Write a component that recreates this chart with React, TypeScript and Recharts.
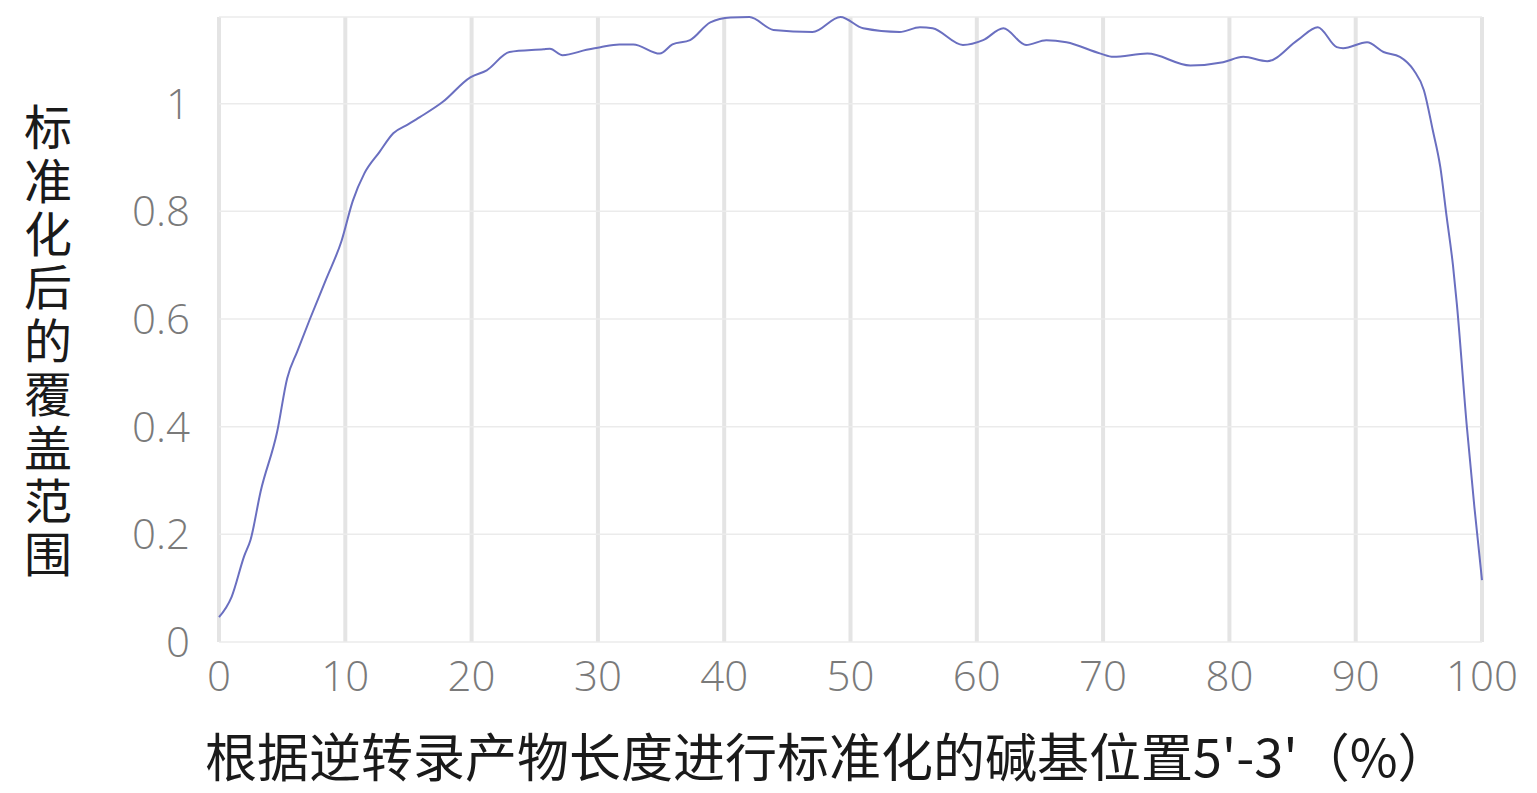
import { LineChart, Line, XAxis, YAxis, CartesianGrid } from 'recharts';

// normalised base position along the transcript (%)
const positions = [
  0, 1, 2, 2.5, 3.3, 4.6, 5.4, 6.2, 7.2, 8.5, 9.7, 10.6, 11.5, 12.7, 13.8, 15, 15.9, 17.7,
  19.9, 21.2, 23, 25.7, 26.2, 27.2, 29.1, 30.2, 31.7, 32.8, 34.9, 35.9, 37.3, 38.9, 40.5,
  42, 43.9, 47, 49.2, 51, 53.9, 55.5, 56.5, 58.9, 60.5, 62.1, 63.9, 65.5, 67.1, 69.8, 70.8,
  73.5, 76.9, 79.5, 81.1, 83, 85.4, 87, 88.5, 89, 90.9, 92.2, 93.5, 94.6, 95.4, 96.1, 96.7,
  97.2, 97.7, 98, 98.8, 99.4, 100,
];

// normalised coverage at each position
const coverage = [
  0.046, 0.084, 0.16, 0.19, 0.28, 0.39, 0.49, 0.54, 0.6, 0.675, 0.745, 0.82, 0.87, 0.91, 0.945,
  0.962, 0.975, 1.003, 1.049, 1.062, 1.096, 1.101, 1.102, 1.09, 1.1, 1.105, 1.11, 1.11, 1.093,
  1.11, 1.118, 1.151, 1.16, 1.161, 1.137, 1.133, 1.161, 1.14, 1.133, 1.142, 1.14, 1.109, 1.118,
  1.14, 1.109, 1.118, 1.114, 1.093, 1.087, 1.093, 1.071, 1.077, 1.087, 1.079, 1.118, 1.142,
  1.105, 1.103, 1.114, 1.096, 1.087, 1.062, 1.025, 0.951, 0.882, 0.79, 0.7, 0.63, 0.4, 0.25,
  0.115,
];

const xTicks = [0, 10, 20, 30, 40, 50, 60, 70, 80, 90, 100];
const yTicks = [0, 0.2, 0.4, 0.6, 0.8, 1];

const yTitle = '标准化后的覆盖范围';
const xTitle = "根据逆转录产物长度进行标准化的碱基位置5'-3'（%）";

const data = positions.map((pos, i) => ({ pos, coverage: coverage[i] }));

const tickFont = { fontSize: 42, fill: '#7a7a7a', fontFamily: '"Open Sans", sans-serif', fontWeight: 300 };
const titleFont = '"Noto Sans CJK SC", sans-serif';

// y title is set vertically with upright characters
function VerticalTitle(props: any) {
  const { viewBox } = props;
  return (
    <text
      x={viewBox.x + 48}
      y={viewBox.y + 86}
      fontSize={48}
      letterSpacing={5.4}
      fill="#1a1a1a"
      fontFamily={titleFont}
      style={{ writingMode: 'vertical-rl', textOrientation: 'upright' } as any}
    >
      {yTitle}
    </text>
  );
}

function BottomTitle(props: any) {
  const { viewBox } = props;
  return (
    <text
      x={viewBox.x - 14}
      y={viewBox.y + 135}
      textAnchor="start"
      fontSize={52}
      fill="#1a1a1a"
      fontFamily={titleFont}
    >
      {xTitle}
    </text>
  );
}

export default function App() {
  return (
    <div style={{ position: 'absolute', left: 0, top: 0, background: '#fff' }}>
      <LineChart width={1537} height={793} data={data} margin={{ top: 17, right: 55, bottom: 0, left: 0 }}>
        <CartesianGrid horizontal={false} stroke="#e4e4e4" strokeWidth={4} />
        <CartesianGrid vertical={false} stroke="#ebebeb" strokeWidth={1.5} />
        <XAxis
          dataKey="pos"
          type="number"
          domain={[0, 100]}
          ticks={xTicks}
          interval={0}
          height={151}
          axisLine={false}
          tickLine={false}
          tickSize={0}
          tickMargin={19}
          tick={tickFont}
          label={<BottomTitle />}
        />
        <YAxis
          type="number"
          domain={[0, 1.16]}
          ticks={yTicks}
          interval={0}
          width={219}
          axisLine={false}
          tickLine={false}
          tickSize={0}
          tickMargin={29}
          tick={tickFont}
          label={<VerticalTitle />}
        />
        <Line
          type="monotone"
          dataKey="coverage"
          stroke="#6a6fc0"
          strokeWidth={2}
          dot={false}
          isAnimationActive={false}
        />
      </LineChart>
    </div>
  );
}
